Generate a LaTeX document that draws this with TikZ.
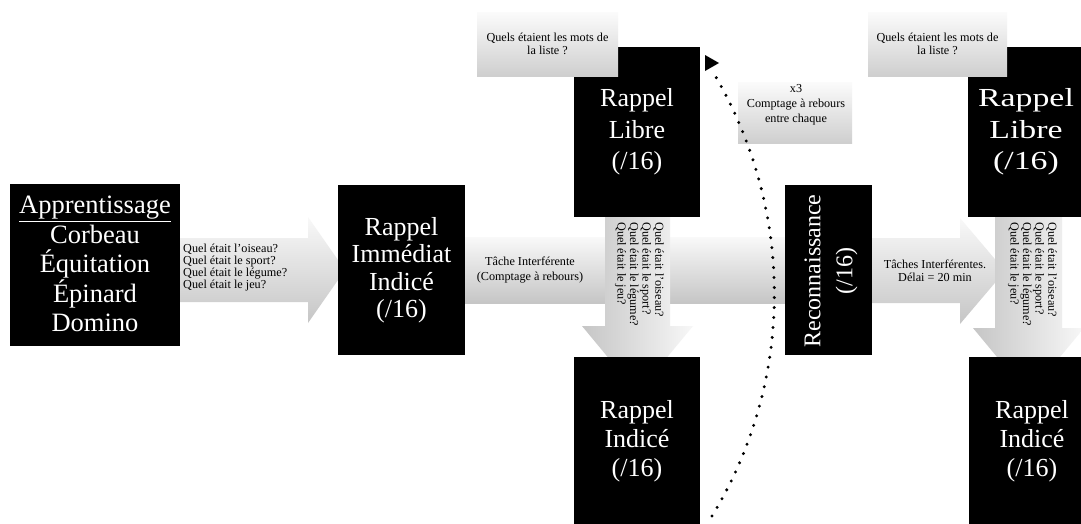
\documentclass[tikz,border=0pt]{standalone}
\usepackage{fontspec}
\setmainfont{Liberation Serif}
\begin{document}
\begin{tikzpicture}[x=1pt,y=-1pt,
  blk/.style={fill=black, text=white, inner sep=0pt, align=center},
  wtxt/.style={text=white, inner sep=0pt, align=center},
  qbox/.style={top color=gray!3, bottom color=gray!38, inner sep=0pt, align=center, font=\fontsize{12.2}{12.8}\selectfont},
  harrow/.style={top color=gray!5, bottom color=gray!45},
  varrow/.style={left color=gray!45, right color=gray!6},
  small/.style={font=\fontsize{12.2}{12}\selectfont, inner sep=0pt},
  dots/.style={line width=3.3pt, line cap=round, dash pattern=on 0pt off 10pt}
]
\useasboundingbox[fill=white] (0,0) rectangle (1081,523);

% horizontal arrows
\path[harrow] (178,238) -- (308,238) -- (308,217) -- (345,270) -- (308,323) -- (308,302) -- (178,302) -- cycle;
\path[harrow] (462,237) rectangle (790,303);
\path[harrow] (870,238) -- (960,238) -- (960,218) -- (1005,271) -- (960,324) -- (960,303) -- (870,303) -- cycle;

% vertical arrows
\path[varrow] (605,215) -- (670,215) -- (670,326) -- (693,326) -- (637.5,393) -- (582,326) -- (605,326) -- cycle;
\path[varrow] (995,215) -- (1062,215) -- (1062,328) -- (1084,328) -- (1028.5,395) -- (973,328) -- (995,328) -- cycle;

% arrow texts
\node[small, anchor=west, align=left] (t1) at (183,268) {Quel était l’oiseau?\\Quel était le sport?\\Quel était le légume?\\Quel était le jeu?};
\node[small, align=center, font=\fontsize{12.2}{14.5}\selectfont] (t2) at (530,270) {Tâche Interférente\\(Comptage à rebours)};
\node[small, align=center, font=\fontsize{12.2}{12.5}\selectfont] (t3) at (935,271) {Tâches Interférentes.\\Délai = 20 min};
\node[small, rotate=-90, anchor=north west, align=left, font=\fontsize{12.2}{12.6}\selectfont] (t4) at (664,222) {Quel était l’oiseau?\\Quel était le sport?\\Quel était le légume?\\Quel était le jeu?};
\node[small, rotate=-90, anchor=north west, align=left, font=\fontsize{12.2}{12.6}\selectfont] (t5) at (1057,222) {Quel était l’oiseau?\\Quel était le sport?\\Quel était le légume?\\Quel était le jeu?};

% black boxes
\node[blk, minimum width=170pt, minimum height=162pt] (appr) at (95,265) {};
\node[wtxt, font=\fontsize{26.5}{29.5}\selectfont] (apprt) at (95,264) {\underline{Apprentissage}\\Corbeau\\Équitation\\Épinard\\Domino};
\node[blk, font=\fontsize{26}{27.5}\selectfont, minimum width=127pt, minimum height=170pt] (rii) at (401.5,270) {Rappel\\Immédiat\\Indicé\\(/16)};
\node[blk, font=\fontsize{26}{31.5}\selectfont, minimum width=126pt, minimum height=170pt] (rl1) at (637,132) {Rappel\\Libre\\(/16)};
\node[blk, font=\fontsize{26}{29}\selectfont, minimum width=126pt, minimum height=168pt] (ri1) at (637,441) {Rappel\\Indicé\\(/16)};
\node[blk, minimum width=87pt, minimum height=170pt] (reco) at (828.5,270) {};
\node[wtxt, rotate=90, font=\fontsize{24}{32}\selectfont] (recot) at (831,271) {Reconnaissance\\(/16)};
\node[blk, minimum width=127pt, minimum height=170pt] (rl2) at (1031.5,132) {};
\node[wtxt, xscale=1.3, font=\fontsize{26}{31.5}\selectfont] (rl2t) at (1026,132) {Rappel\\Libre\\(/16)};
\node[blk, font=\fontsize{26}{29}\selectfont, minimum width=127pt, minimum height=168pt] (ri2) at (1032,441) {Rappel\\Indicé\\(/16)};

% grey boxes
\node[qbox, minimum width=141pt, minimum height=64pt] (q1) at (547.5,44) {Quels étaient les mots de\\la liste ?};
\node[qbox, minimum width=139pt, minimum height=64pt] (q2) at (937.5,44) {Quels étaient les mots de\\la liste ?};
\node[qbox, minimum width=114pt, minimum height=61pt] (x3) at (795,112.5) {};
\node[small, align=center, font=\fontsize{12.2}{15}\selectfont] (x3t) at (796,105) {x3\\Comptage à rebours\\entre chaque};

% dotted return arc
\coordinate (d0) at (712,516);
\coordinate (d1) at (713,72);
\draw[dots] (d0) .. controls (795,380) and (795,210) .. (d1);
\fill (705,55) -- (719,63) -- (705,71) -- cycle;
\end{tikzpicture}
\end{document}
